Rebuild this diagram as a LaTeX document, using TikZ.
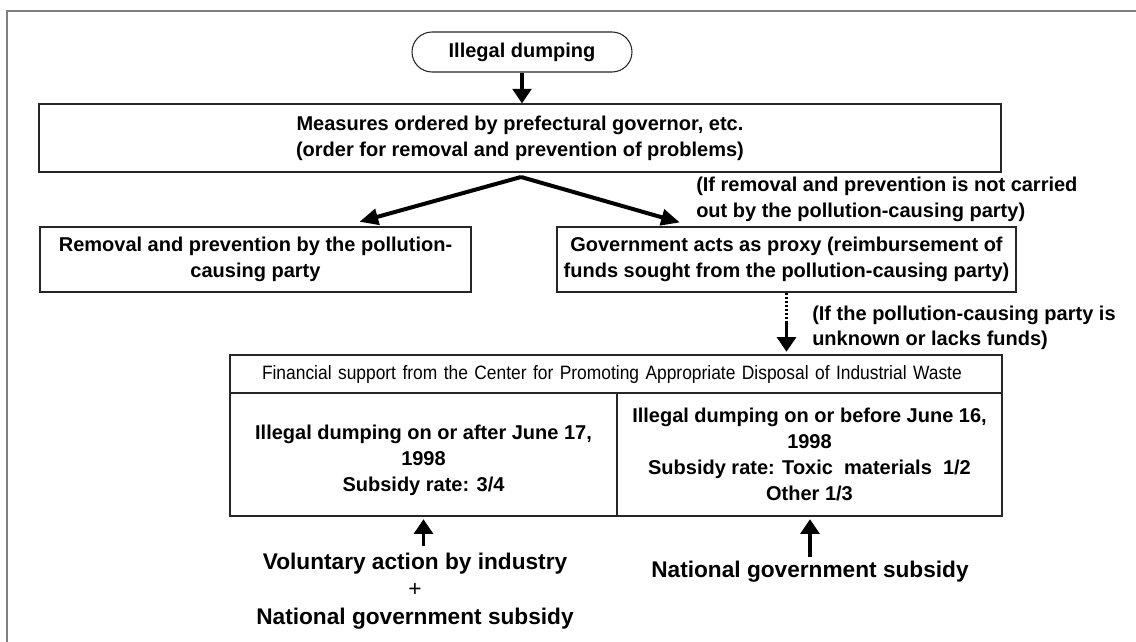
\documentclass[tikz,border=0pt]{standalone}
\usepackage{fontspec}
\setmainfont{Liberation Sans}
\newfontfamily\narrowfont[FakeStretch=0.9]{Liberation Sans}
\usetikzlibrary{arrows.meta}

\begin{document}
\begin{tikzpicture}[x=0.75pt, y=-0.75pt,
	box/.style={draw=black!85, line width=0.8pt, inner sep=0pt, align=center, font=\fontsize{15}{19.5}\selectfont\bfseries},
	note/.style={anchor=west, align=left, inner sep=0pt, font=\fontsize{15}{19}\selectfont\bfseries},
	below text/.style={align=center, inner sep=0pt, font=\fontsize{17}{20.5}\selectfont\bfseries},
	arr/.style={line width=2.8pt, -{Triangle[length=11pt,width=14pt]}},
	fork arr/.style={line width=3pt, -{Triangle[length=14pt,width=12pt]}},
	dotline/.style={line width=2pt, dash pattern=on 1.5pt off 1.5pt}]
	
	\useasboundingbox (0,0) rectangle (1136,642);
	\draw[gray, line width=1.1pt] (1136,11) -- (7,11) -- (7,642);
	
	\node[box, rounded corners=15pt, minimum width=165pt, minimum height=30pt] (dump) at (522,52) {Illegal dumping};
	\node[box, minimum width=721.5pt, minimum height=51pt] (order) at (520,138) {Measures ordered by prefectural governor, etc.\\(order for removal and prevention of problems)};
	\node[box, minimum width=323.25pt, minimum height=48.75pt] (self) at (255.5,259.5) {Removal and prevention by the pollution-\\causing party};
	\node[box, minimum width=344.25pt, minimum height=48.75pt] (proxy) at (786.5,259.5) {Government acts as proxy (reimbursement of\\funds sought from the pollution-causing party)};
	\node[note] (notdone) at (696,199.5) {(If removal and prevention is not carried\\out by the pollution-causing party)};
	\node[note] (unknown) at (812,328) {(If the pollution-causing party is\\unknown or lacks funds)};
	
	% support table
	\node[box, minimum width=579pt, minimum height=28.5pt, text width=531pt, inner xsep=24pt, align=left, font=\fontsize{14.5}{17}\selectfont\narrowfont] (center) at (616,374) {Financial support from the Center for Promoting Appropriate Disposal of Industrial Waste};
	\node[box, minimum width=290.25pt, minimum height=92.25pt] (after) at (423.5,454.5) {\rule{0pt}{20pt}Illegal dumping on or after June 17,\\1998\\Subsidy rate: 3/4};
	\node[box, minimum width=288.75pt, minimum height=92.25pt] (before) at (809.5,454.5) {Illegal dumping on or before June 16,\\1998\\Subsidy rate: Toxic~ materials~ 1/2\\Other 1/3};
	
	\node[below text] (industry) at (415,591) {Voluntary action by industry\\{\mdseries +}\\National government subsidy};
	\node[below text] (national) at (810,572) {National government subsidy};
	
	\coordinate (fork) at (521,177);
	\draw[arr] (dump.south) -- (dump.south |- order.north);
	\draw[fork arr] (fork) -- ([xshift=78pt,yshift=3.5pt]self.north);
	\draw[fork arr] (fork) -- ([xshift=-80pt,yshift=3pt]proxy.north);
	\draw[dotline] (proxy.south) -- ([yshift=-21pt]proxy.south);
	\draw[arr, shorten >=2pt] ([yshift=-21pt]proxy.south) -- (proxy.south |- center.north);
	\draw[arr, shorten >=2pt, shorten <=5pt] (after.south |- industry.north) -- (after.south);
	\draw[arr, shorten >=2pt, shorten <=3pt] (national.north) -- (national.north |- before.south);
\end{tikzpicture}
\end{document}
